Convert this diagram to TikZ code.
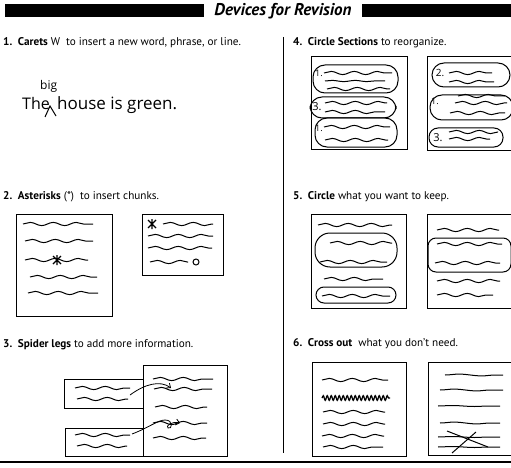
\documentclass[tikz,border=0pt]{standalone}
\usepackage{fontspec}
\setmainfont{PT Sans}
\newfontfamily\hand{Open Sans}
\usetikzlibrary{decorations.pathmorphing,arrows.meta}
\begin{document}
\begin{tikzpicture}[x=1pt,y=-1pt,
  wv/.style={decorate,decoration={snake,amplitude=1.6pt,segment length=23pt},line width=1pt},
  scrib/.style={decorate,decoration={snake,amplitude=2.4pt,segment length=4pt},line width=1.2pt},
  frame/.style={draw,line width=1pt},
  pill/.style={draw,line width=1pt,rounded corners=12pt},
  ttl/.style={anchor=west,font=\fontsize{11.2}{13}\selectfont,inner sep=0pt},
  hw/.style={font=\hand\fontsize{9}{9}\selectfont,inner sep=0pt},
  astk/.style={line width=1.4pt},
  barb/.style={-{Straight Barb[length=3.5pt,width=6pt]},line width=0.8pt}]
\useasboundingbox (0,0) rectangle (511,468);
\fill[white] (0,0) rectangle (511,468);
% header
\fill (5,4) rectangle (204,17);
\fill (362,4) rectangle (511,17);
\node[font=\bfseries\itshape\fontsize{17}{18}\selectfont,inner sep=0pt] (title) at (283,11) {Devices for Revision};
% rules
\draw[line width=0.8pt] (283,37) -- (283,453);
\draw[line width=1.3pt] (0,462) -- (511,462);
% titles
\node[ttl] (t1) at (3,43) {\textbf{1.\ \ Carets} W\ \ to insert a new word, phrase, or line.};
\node[ttl] (t2) at (3,197) {\textbf{2.\ \ Asterisks} (*)\ \ to insert chunks.};
\node[ttl] (t3) at (3,345) {\textbf{3.\ \ Spider legs} to add more information.};
\node[ttl] (t4) at (293,43) {\textbf{4.\ \ Circle Sections} to reorganize.};
\node[ttl] (t5) at (293,197) {\textbf{5.\ \ Circle} what you want to keep.};
\node[ttl] (t6) at (293,344) {\textbf{6.\ \ Cross out}\ \ what you don't need.};
% panel 1
\node[anchor=base west,inner sep=0pt,font=\hand\fontsize{16}{17}\selectfont] (the) at (22,110) {The};
\node[anchor=base west,inner sep=0pt,font=\hand\fontsize{17}{18}\selectfont] (house) at (57,110) {house is green.};
\node[anchor=base west,inner sep=0pt,font=\hand\fontsize{12}{12}\selectfont] (big) at (40,90) {big};
\draw[line width=1pt] (45,117) -- (50,106) -- (56,116);
% panel 2
\draw[frame] (16,214) rectangle (112,316);
\draw[wv] (23,224) -- (93,224);
\draw[wv] (25,241) -- (93,241);
\draw[wv] (25,260) -- (88,260);
\draw[wv] (30,277) -- (97,277);
\draw[wv] (28,293) -- (98,293);
\draw[astk] (53,256) -- (61,264) (53,264) -- (61,256) (57,255) -- (57,265);
\draw[frame] (142,214) rectangle (223,275);
\draw[astk] (148,220) -- (156,228) (148,228) -- (156,220) (152,219) -- (152,229);
\draw[wv] (163,224) -- (213,224);
\draw[wv] (148,236) -- (213,236);
\draw[wv] (148,248) -- (212,248);
\draw[wv] (150,262) -- (188,262);
\draw[line width=1pt] (196,262) circle (3);
% panel 3
\draw[frame] (143,365) rectangle (227,456);
\draw[frame] (64,379) rectangle (143,408);
\draw[frame] (65,428) rectangle (143,456);
\draw[wv] (153,379) -- (213,379);
\draw[wv] (154,389) -- (212,389);
\draw[wv] (155,407) -- (207,407);
\draw[wv] (153,423) -- (207,423);
\draw[wv] (153,438) -- (206,438);
\draw[wv] (75,388) -- (130,388);
\draw[wv] (77,399) -- (128,399);
\draw[wv] (75,435) -- (130,435);
\draw[wv] (77,446) -- (127,446);
\coordinate (a1s) at (130,395);
\coordinate (a1e) at (171,388);
\coordinate (a2s) at (132,434);
\coordinate (a2e) at (180,423);
\draw[barb] (a1s) .. controls (145,384) and (160,380) .. (a1e);
\draw[barb] (a2s) .. controls (148,428) and (158,420) .. (165,420) .. controls (174,420) and (172,430) .. (168,428) .. controls (165,426) and (172,421) .. (a2e);
% panel 4
\draw[frame] (311,57) rectangle (407,149);
\draw[pill] (313,65) rectangle (398,93);
\draw[pill] (310,97) rectangle (396,118);
\draw[pill] (315,118) rectangle (397,147);
\node[hw] (n41) at (319,73) {1.};
\node[hw,font=\hand\fontsize{11}{11}\selectfont] (n43) at (317,107) {3.};
\node[hw] (n4t) at (319,128) {1.};
\draw[wv] (324,73) -- (392,73);
\draw[wv,decoration={amplitude=0.6pt}] (325,81) -- (385,81);
\draw[wv] (327,89) -- (390,89);
\draw[wv] (325,103) -- (387,103);
\draw[wv] (325,112) -- (385,112);
\draw[wv] (324,127) -- (390,127);
\draw[wv] (325,140) -- (388,140);
\draw[frame] (427,57) rectangle (515,150);
\draw[pill] (432,63) rectangle (510,87);
\draw[pill] (430,95) rectangle (513,120);
\draw[pill,rounded corners=9pt] (429,128) rectangle (503,147);
\node[hw,font=\hand\fontsize{10}{10}\selectfont] (n42) at (440,73) {2.};
\node[hw] (n4b) at (435,101) {1.};
\node[hw,font=\hand\fontsize{11}{11}\selectfont] (n4c) at (438,138) {3.};
\draw[wv] (449,73) -- (492,73);
\draw[wv] (449,82) -- (494,82);
\draw[wv] (458,96) -- (505,96);
\draw[wv] (455,103) -- (507,103);
\draw[wv] (450,113) -- (505,113);
\draw[wv] (449,132) -- (498,132);
\draw[wv] (449,139) -- (490,139);
% panel 5
\draw[frame] (311,214) rectangle (406,308);
\draw[wv] (318,225) -- (392,225);
\draw[wv] (330,243) -- (392,243);
\draw[wv] (320,262) -- (387,262);
\draw[wv] (324,279) -- (383,279);
\draw[wv] (322,296) -- (390,296);
\draw[pill,rounded corners=15pt] (315,233) rectangle (397,267);
\draw[pill,rounded corners=8pt] (316,287) rectangle (396,303);
\draw[frame] (427,214) rectangle (515,308);
\draw[wv] (437,230) -- (499,230);
\draw[wv] (437,244) -- (502,244);
\draw[wv] (435,263) -- (500,263);
\draw[wv] (437,281) -- (500,281);
\draw[wv] (437,295) -- (493,295);
\draw[pill,rounded corners=8pt] (428,238) rectangle (511,272);
% panel 6
\draw[frame] (312,362) rectangle (406,456);
\draw[wv] (322,380) -- (388,380);
\draw[scrib] (322,398) -- (390,398);
\draw[wv] (323,412) -- (385,412);
\draw[wv] (323,424) -- (385,424);
\draw[wv] (322,436) -- (384,436);
\draw[wv] (323,447) -- (383,447);
\draw[frame] (428,362) rectangle (515,455);
\draw[wv,decoration={amplitude=0.9pt,segment length=45pt}] (445,375) -- (503,375);
\draw[wv,decoration={amplitude=0.9pt,segment length=45pt}] (440,390) -- (503,390);
\draw[wv,decoration={amplitude=0.5pt,segment length=45pt}] (438,406) -- (500,406);
\draw[wv,decoration={amplitude=0.9pt,segment length=45pt}] (440,423) -- (500,423);
\draw[wv,decoration={amplitude=0.5pt,segment length=45pt}] (438,437) -- (500,437);
\draw[wv,decoration={amplitude=0.5pt,segment length=45pt}] (438,447) -- (500,447);
\draw[line width=1pt] (447,431) -- (488,447);
\draw[line width=1pt] (452,453) -- (476,432);
\end{tikzpicture}
\end{document}
